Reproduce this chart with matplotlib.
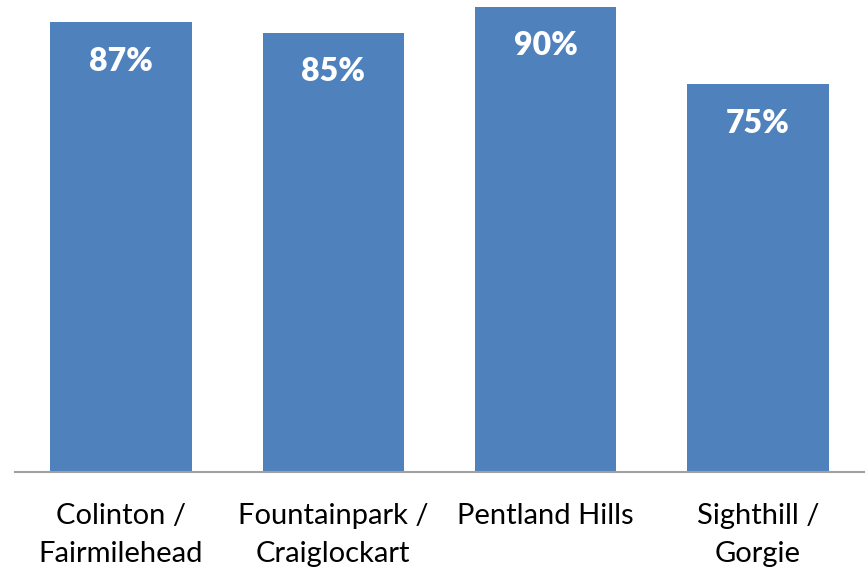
import matplotlib.pyplot as plt

categories = ['Colinton /\nFairmilehead', 'Fountainpark /\nCraiglockart', 'Pentland Hills', 'Sighthill /\nGorgie']
values = [87, 85, 90, 75]
labels = ['87%', '85%', '90%', '75%']

plt.rcParams['font.family'] = ['Lato', 'DejaVu Sans']

fig = plt.figure(figsize=(8.67, 5.67), dpi=100)
ax = fig.add_axes([0.0173, 0.1675, 0.9792, 0.8325])

x = range(len(categories))
ax.bar(x, values, width=0.667, color='#4F81BD')
ax.set_xlim(-0.5, len(categories) - 0.5)
ax.set_ylim(0, 91.35)

for i, (v, lab) in enumerate(zip(values, labels)):
    ax.annotate(lab, (i, v), xytext=(0, -28), textcoords='offset points',
                ha='center', va='center', color='white', fontsize=23, fontweight='heavy')

ax.set_xticks(list(x))
ax.set_xticklabels(categories, fontsize=21, linespacing=1.6)
ax.tick_params(axis='x', length=0, pad=22)
ax.set_yticks([])
for s in ['top', 'right', 'left']:
    ax.spines[s].set_visible(False)
ax.spines['bottom'].set_color('#a0a0a0')
ax.spines['bottom'].set_linewidth(1.5)

fig.savefig('out.png', dpi=100)
